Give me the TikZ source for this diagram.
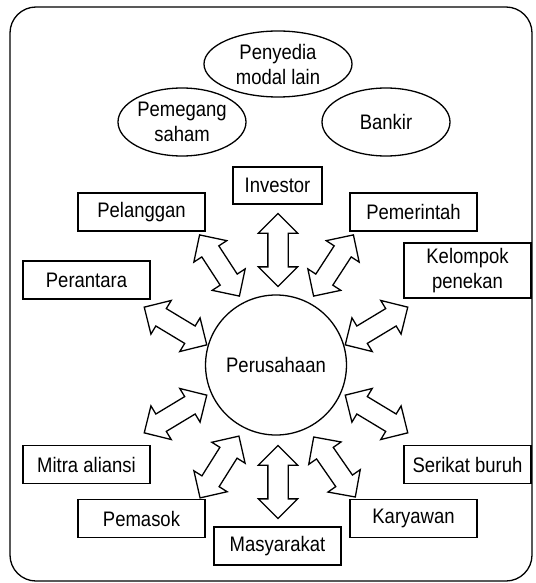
\documentclass[tikz,border=0pt]{standalone}
\usepackage{fontspec}
\setmainfont{Liberation Sans}[FakeStretch=0.88]
\usetikzlibrary{shapes.geometric,shapes.arrows,positioning}

\begin{document}
\begin{tikzpicture}[
    x=1pt, y=-1pt,
    every node/.style={font=\fontsize{21}{25}\selectfont},
    party/.style={rectangle, draw, line width=1.3pt, minimum width=127, minimum height=38, inner sep=0pt, align=center},
    capital/.style={ellipse, draw, line width=1.3pt, minimum width=128, minimum height=68, inner sep=0pt, align=center},
    firm/.style={ellipse, draw, line width=1.3pt, minimum width=133, minimum height=140, inner sep=0pt},
    blockarrow/.style={double arrow, draw, line width=1.3pt, minimum height=73, double arrow head extend=9.5, inner sep=9.5pt, sloped}
]
    \useasboundingbox (0,0) rectangle (535,583);
    \draw[line width=1.3pt, rounded corners=26] (10,7) rectangle (532,581);

    % Capital providers
    \node[capital, minimum width=148, minimum height=66] (modal) at (278,64) {Penyedia\\modal lain};
    \node[capital] (pemegang) at (182,122) {Pemegang\\saham};
    \node[capital] (bankir) at (386,122) {Bankir};

    % Stakeholders
    \node[party, minimum width=89, minimum height=37] (investor) at (277.5,185.5) {Investor};
    \node[party] (pelanggan) at (141.5,212) {Pelanggan};
    \node[party] (pemerintah) at (413.5,212) {Pemerintah};
    \node[party] (perantara) at (86.5,280) {Perantara};
    \node[party, minimum height=55] (kelompok) at (467.5,270.5) {Kelompok\\penekan};
    \node[party] (mitra) at (86.5,464.5) {Mitra aliansi};
    \node[party] (serikat) at (467.5,464.5) {Serikat buruh};
    \node[party] (pemasok) at (141.5,518.5) {Pemasok};
    \node[party] (karyawan) at (413.5,518.5) {Karyawan};
    \node[party] (masyarakat) at (277.5,546) {Masyarakat};

    % Company
    \node[firm] (perusahaan) at (276,365) {Perusahaan};

    % Arrow ends
    \coordinate (inv1) at (278,214);  \coordinate (inv2) at (278,286);
    \coordinate (pel1) at (199,234);  \coordinate (pel2) at (240,297);
    \coordinate (pem1) at (354,234);  \coordinate (pem2) at (313,297);
    \coordinate (per1) at (144,307);  \coordinate (per2) at (207,345);
    \coordinate (kel1) at (408,307);  \coordinate (kel2) at (345,345);
    \coordinate (mit1) at (207,395);  \coordinate (mit2) at (144,433);
    \coordinate (ser1) at (345,395);  \coordinate (ser2) at (408,433);
    \coordinate (pas1) at (239,436);  \coordinate (pas2) at (200,498);
    \coordinate (kar1) at (313,436);  \coordinate (kar2) at (356,498);
    \coordinate (mas1) at (278,446);  \coordinate (mas2) at (278,518);

    % Two-way relations
    \path (inv1) -- node[blockarrow] {} (inv2);
    \path (pel1) -- node[blockarrow] {} (pel2);
    \path (pem1) -- node[blockarrow] {} (pem2);
    \path (per1) -- node[blockarrow] {} (per2);
    \path (kel1) -- node[blockarrow] {} (kel2);
    \path (mit1) -- node[blockarrow] {} (mit2);
    \path (ser1) -- node[blockarrow] {} (ser2);
    \path (pas1) -- node[blockarrow] {} (pas2);
    \path (kar1) -- node[blockarrow] {} (kar2);
    \path (mas1) -- node[blockarrow] {} (mas2);
\end{tikzpicture}
\end{document}
